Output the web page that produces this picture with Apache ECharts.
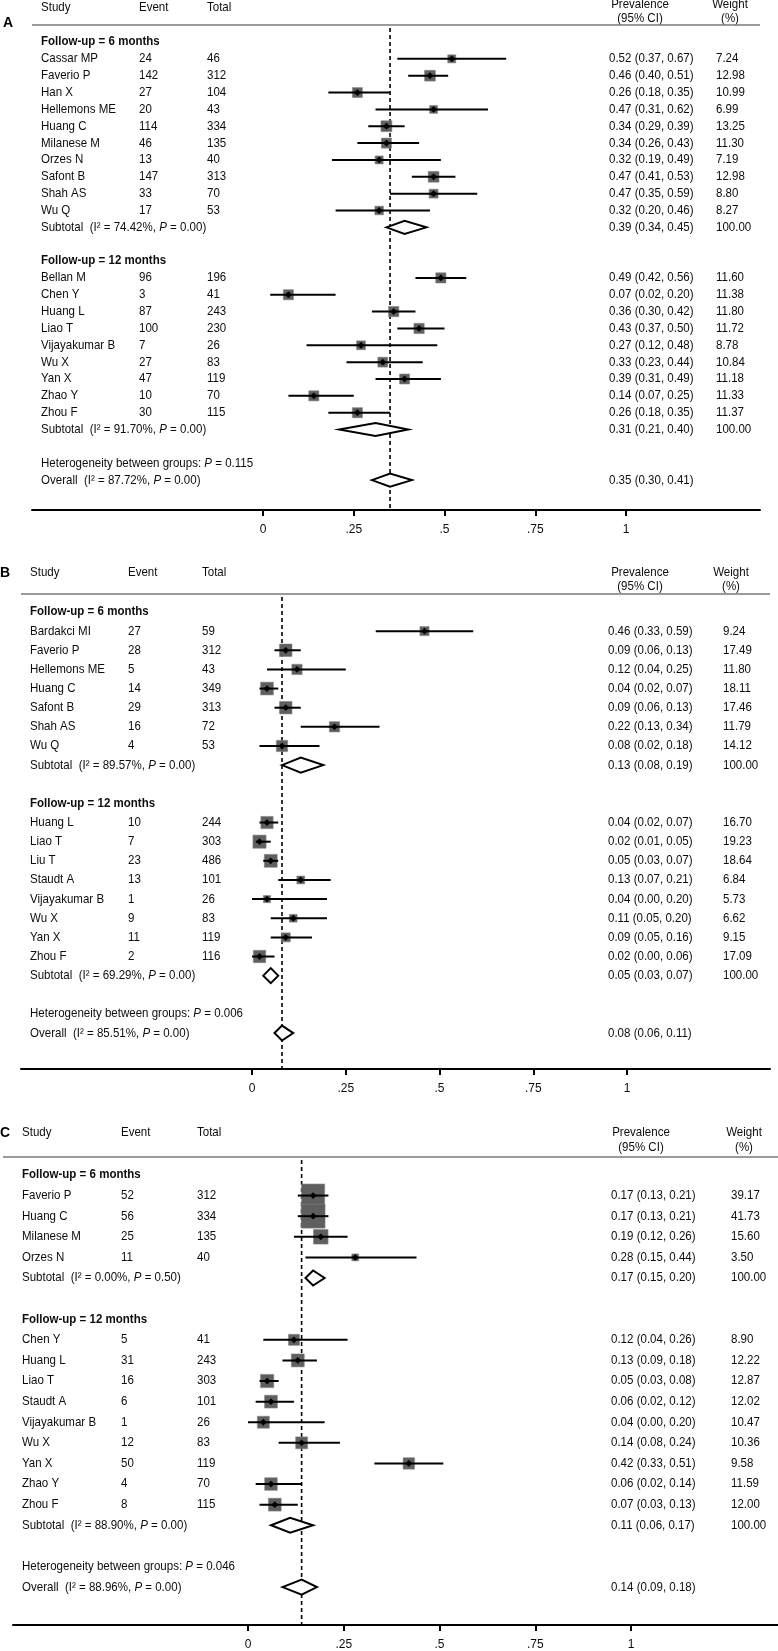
<!DOCTYPE html>
<html><head><meta charset="utf-8">
<script src="https://cdn.jsdelivr.net/npm/echarts@6/dist/echarts.min.js"></script>
<style>html,body{margin:0;padding:0;background:#fff}#c{width:778px;height:1651px}</style>
</head><body><div id="c"></div>
<script>
// ================= DATA =================
const TICK_VALUES = [0, 0.25, 0.5, 0.75, 1];
const TICK_LABELS = ['0', '.25', '.5', '.75', '1'];
const GROUP_LABELS = ['Follow-up = 6 months', 'Follow-up = 12 months'];
const HEADERS = ['Study', 'Event', 'Total', 'Prevalence', '(95% CI)', 'Weight', '(%)'];
const PANEL_LETTERS = ['A', 'B', 'C'];

// study rows: [study, event, total, prevalence, lower CI, upper CI, weight %]
// pooled rows: [prevalence, lower CI, upper CI, I2 %, P]
const A_6M = [
  ['Cassar MP', 24, 46, 0.52, 0.37, 0.67, 7.24],
  ['Faverio P', 142, 312, 0.46, 0.40, 0.51, 12.98],
  ['Han X', 27, 104, 0.26, 0.18, 0.35, 10.99],
  ['Hellemons ME', 20, 43, 0.47, 0.31, 0.62, 6.99],
  ['Huang C', 114, 334, 0.34, 0.29, 0.39, 13.25],
  ['Milanese M', 46, 135, 0.34, 0.26, 0.43, 11.30],
  ['Orzes N', 13, 40, 0.32, 0.19, 0.49, 7.19],
  ['Safont B', 147, 313, 0.47, 0.41, 0.53, 12.98],
  ['Shah AS', 33, 70, 0.47, 0.35, 0.59, 8.80],
  ['Wu Q', 17, 53, 0.32, 0.20, 0.46, 8.27]
];
const A_6M_SUB = [0.39, 0.34, 0.45, 74.42, 0.00];
const A_12M = [
  ['Bellan M', 96, 196, 0.49, 0.42, 0.56, 11.60],
  ['Chen Y', 3, 41, 0.07, 0.02, 0.20, 11.38],
  ['Huang L', 87, 243, 0.36, 0.30, 0.42, 11.80],
  ['Liao T', 100, 230, 0.43, 0.37, 0.50, 11.72],
  ['Vijayakumar B', 7, 26, 0.27, 0.12, 0.48, 8.78],
  ['Wu X', 27, 83, 0.33, 0.23, 0.44, 10.84],
  ['Yan X', 47, 119, 0.39, 0.31, 0.49, 11.18],
  ['Zhao Y', 10, 70, 0.14, 0.07, 0.25, 11.33],
  ['Zhou F', 30, 115, 0.26, 0.18, 0.35, 11.37]
];
const A_12M_SUB = [0.31, 0.21, 0.40, 91.70, 0.00];
const A_OVERALL = [0.35, 0.30, 0.41, 87.72, 0.00];
const A_HET_P = '0.115';

const B_6M = [
  ['Bardakci MI', 27, 59, 0.46, 0.33, 0.59, 9.24],
  ['Faverio P', 28, 312, 0.09, 0.06, 0.13, 17.49],
  ['Hellemons ME', 5, 43, 0.12, 0.04, 0.25, 11.80],
  ['Huang C', 14, 349, 0.04, 0.02, 0.07, 18.11],
  ['Safont B', 29, 313, 0.09, 0.06, 0.13, 17.46],
  ['Shah AS', 16, 72, 0.22, 0.13, 0.34, 11.79],
  ['Wu Q', 4, 53, 0.08, 0.02, 0.18, 14.12]
];
const B_6M_SUB = [0.13, 0.08, 0.19, 89.57, 0.00];
const B_12M = [
  ['Huang L', 10, 244, 0.04, 0.02, 0.07, 16.70],
  ['Liao T', 7, 303, 0.02, 0.01, 0.05, 19.23],
  ['Liu T', 23, 486, 0.05, 0.03, 0.07, 18.64],
  ['Staudt A', 13, 101, 0.13, 0.07, 0.21, 6.84],
  ['Vijayakumar B', 1, 26, 0.04, 0.00, 0.20, 5.73],
  ['Wu X', 9, 83, 0.11, 0.05, 0.20, 6.62],
  ['Yan X', 11, 119, 0.09, 0.05, 0.16, 9.15],
  ['Zhou F', 2, 116, 0.02, 0.00, 0.06, 17.09]
];
const B_12M_SUB = [0.05, 0.03, 0.07, 69.29, 0.00];
const B_OVERALL = [0.08, 0.06, 0.11, 85.51, 0.00];
const B_HET_P = '0.006';

const C_6M = [
  ['Faverio P', 52, 312, 0.17, 0.13, 0.21, 39.17],
  ['Huang C', 56, 334, 0.17, 0.13, 0.21, 41.73],
  ['Milanese M', 25, 135, 0.19, 0.12, 0.26, 15.60],
  ['Orzes N', 11, 40, 0.28, 0.15, 0.44, 3.50]
];
const C_6M_SUB = [0.17, 0.15, 0.20, 0.00, 0.50];
const C_12M = [
  ['Chen Y', 5, 41, 0.12, 0.04, 0.26, 8.90],
  ['Huang L', 31, 243, 0.13, 0.09, 0.18, 12.22],
  ['Liao T', 16, 303, 0.05, 0.03, 0.08, 12.87],
  ['Staudt A', 6, 101, 0.06, 0.02, 0.12, 12.02],
  ['Vijayakumar B', 1, 26, 0.04, 0.00, 0.20, 10.47],
  ['Wu X', 12, 83, 0.14, 0.08, 0.24, 10.36],
  ['Yan X', 50, 119, 0.42, 0.33, 0.51, 9.58],
  ['Zhao Y', 4, 70, 0.06, 0.02, 0.14, 11.59],
  ['Zhou F', 8, 115, 0.07, 0.03, 0.13, 12.00]
];
const C_12M_SUB = [0.11, 0.06, 0.17, 88.90, 0.00];
const C_OVERALL = [0.14, 0.09, 0.18, 88.96, 0.00];
const C_HET_P = '0.046';

// ================= LAYOUT (pixels) =================
const LAYOUT = [
  {lx: 8, ly: 23, axL: 32, axR: 760, x0: 263, x1: 626, row0: 42, pitch: 16.85, lineY: 25, axisY: 510,
   studyY: 8, prevY: 5, ciY: 19, cols: [41, 139, 207, 609, 716], prevC: 640, wC: 730, hdrL: 32, hdrR: 760, box: 3.0, dia: 13},
  {lx: 5, ly: 573, axL: 21, axR: 770, x0: 252, x1: 627, row0: 612, pitch: 19.14, lineY: 594, axisY: 1069,
   studyY: 573, prevY: 573, ciY: 587, cols: [30, 128, 202, 608, 723], prevC: 640, wC: 731, hdrL: 21, hdrR: 770, box: 3.0, dia: 15},
  {lx: 5, ly: 1133, axL: 13, axR: 778, x0: 248, x1: 631, row0: 1175, pitch: 20.65, lineY: 1157, axisY: 1626,
   studyY: 1133, prevY: 1133, ciY: 1148, cols: [22, 121, 197, 611, 731], prevC: 641, wC: 744, hdrL: 3, hdrR: 778, box: 3.7, dia: 15}
];
const FONT = "'Liberation Sans', Arial, Helvetica, sans-serif";
const FS = 12.4;     // glyph height
const SX = 0.93;     // horizontal condensing of the reference typeface
const TXT = '#0d0d0d';
const BOX = '#5f5f5f';

const PANELS = [
  [A_6M, A_6M_SUB, A_12M, A_12M_SUB, A_OVERALL, A_HET_P],
  [B_6M, B_6M_SUB, B_12M, B_12M_SUB, B_OVERALL, B_HET_P],
  [C_6M, C_6M_SUB, C_12M, C_12M_SUB, C_OVERALL, C_HET_P]
];

function buildRows(g6, s6, g12, s12, overall, hetP) {
  const rows = [];
  let r = 0;
  rows.push({type: 'group', row: r++, text: GROUP_LABELS[0]});
  g6.forEach(d => rows.push({type: 'study', row: r++, d}));
  rows.push({type: 'sub', row: r, d: s6}); r += 2;
  rows.push({type: 'group', row: r++, text: GROUP_LABELS[1]});
  g12.forEach(d => rows.push({type: 'study', row: r++, d}));
  rows.push({type: 'sub', row: r, d: s12}); r += 2;
  rows.push({type: 'het', row: r++, p: hetP});
  rows.push({type: 'overall', row: r, d: overall});
  return rows;
}
const f2 = v => v.toFixed(2);
const ciText = (e, lo, hi) => `${f2(e)} (${f2(lo)}, ${f2(hi)})`;

function txt(x, y, text, align, extra) {
  align = align || 'left';
  return {type: 'text', x, y, scaleX: SX, silent: true,
    style: Object.assign({text, fill: TXT, fontSize: FS, fontFamily: FONT,
      align, verticalAlign: 'middle', textAlign: align, textVerticalAlign: 'middle',
      rich: {i: {fontStyle: 'italic', fontSize: FS, fontFamily: FONT}, n: {fontSize: FS, fontFamily: FONT}}}, extra || {})};
}

const grids = [], xAxes = [], yAxes = [], series = [], graphics = [];

PANELS.forEach((P, i) => {
  const L = LAYOUT[i];
  const rows = buildRows(...P);
  const overall = P[4];
  const ppu = L.x1 - L.x0;
  const yMin = (L.lineY - L.row0) / L.pitch;
  const yMax = (L.axisY - L.row0) / L.pitch;

  grids.push({left: L.axL, width: L.axR - L.axL, top: L.lineY, height: L.axisY - L.lineY});
  xAxes.push({
    type: 'value', gridIndex: i,
    min: (L.axL - L.x0) / ppu, max: (L.axR - L.x0) / ppu,
    axisLine: {show: true, onZero: false, lineStyle: {color: '#000', width: 2}},
    axisTick: {show: true, customValues: TICK_VALUES, length: 6, inside: false, lineStyle: {color: '#000', width: 2}},
    axisLabel: {show: true, customValues: TICK_VALUES, margin: 14, color: TXT, fontSize: 12, fontFamily: FONT,
      formatter: v => { const k = TICK_VALUES.findIndex(t => Math.abs(t - v) < 1e-9); return k >= 0 ? TICK_LABELS[k] : ''; }},
    splitLine: {show: false}
  });
  yAxes.push({type: 'value', gridIndex: i, inverse: true, min: yMin, max: yMax, show: false});

  // dashed overall reference line
  series.push({
    type: 'custom', xAxisIndex: i, yAxisIndex: i, clip: false, silent: true, z: 1,
    data: [[overall[0], yMin]],
    renderItem: (params, api) => {
      const a = api.coord([api.value(0), yMin]);
      const b = api.coord([api.value(0), yMax]);
      return {type: 'line', shape: {x1: a[0], y1: a[1] + 3, x2: b[0], y2: b[1]},
        style: {stroke: '#000', lineWidth: 1.6, lineDash: [4, 3]}};
    }
  });

  // markers: boxes, CI lines, diamonds
  series.push({
    type: 'custom', xAxisIndex: i, yAxisIndex: i, clip: false, silent: true, z: 2,
    data: rows.map(r => [r.d ? (r.type === 'study' ? r.d[3] : r.d[0]) : 0, r.row]),
    renderItem: (params, api) => {
      const r = rows[params.dataIndex];
      const row = api.value(1);
      if (r.type === 'study') {
        const [, , , e, lo, hi, w] = r.d;
        const c = api.coord([e, row]);
        const a = api.coord([lo, row]);
        const b = api.coord([hi, row]);
        const s = L.box * Math.sqrt(w);
        const m = 3.4;
        return {type: 'group', children: [
          {type: 'rect', shape: {x: c[0] - s / 2, y: c[1] - s / 2, width: s, height: s}, style: {fill: BOX, stroke: '#888', lineWidth: 0.6}},
          {type: 'line', shape: {x1: a[0], y1: a[1], x2: b[0], y2: b[1]}, style: {stroke: '#000', lineWidth: 2}},
          {type: 'polygon', shape: {points: [[c[0] - m, c[1]], [c[0], c[1] - m], [c[0] + m, c[1]], [c[0], c[1] + m]]}, style: {fill: '#000'}}
        ]};
      }
      if (r.type === 'sub' || r.type === 'overall') {
        const [e, lo, hi] = r.d;
        const c = api.coord([e, row]);
        const a = api.coord([lo, row]);
        const b = api.coord([hi, row]);
        const h = L.dia / 2;
        return {type: 'polygon', shape: {points: [[a[0], a[1]], [c[0], c[1] - h], [b[0], b[1]], [c[0], c[1] + h]]},
          style: {fill: '#fff', stroke: '#000', lineWidth: 2}};
      }
      return null;
    }
  });

  // text columns
  series.push({
    type: 'custom', xAxisIndex: i, yAxisIndex: i, clip: false, silent: true, z: 3,
    data: rows.map(r => [0, r.row]),
    renderItem: (params, api) => {
      const r = rows[params.dataIndex];
      const y = api.coord([0, api.value(1)])[1];
      const C = L.cols;
      const ch = [];
      if (r.type === 'group') {
        ch.push(txt(C[0], y, r.text, 'left', {fontWeight: 'bold'}));
      } else if (r.type === 'study') {
        const [name, ev, tot, e, lo, hi, w] = r.d;
        ch.push(txt(C[0], y, name));
        ch.push(txt(C[1], y, String(ev)));
        ch.push(txt(C[2], y, String(tot)));
        ch.push(txt(C[3], y, ciText(e, lo, hi)));
        ch.push(txt(C[4], y, f2(w)));
      } else if (r.type === 'sub' || r.type === 'overall') {
        const [e, lo, hi, i2, p] = r.d;
        const lab = r.type === 'sub' ? 'Subtotal' : 'Overall';
        ch.push(txt(C[0], y, `{n|${lab}  (I² = ${f2(i2)}%, }{i|P}{n| = ${f2(p)})}`));
        ch.push(txt(C[3], y, ciText(e, lo, hi)));
        if (r.type === 'sub') ch.push(txt(C[4], y, '100.00'));
      } else if (r.type === 'het') {
        ch.push(txt(C[0], y, `{n|Heterogeneity between groups: }{i|P}{n| = ${r.p}}`));
      }
      return {type: 'group', children: ch};
    }
  });

  // headers
  graphics.push(txt(L.lx, L.ly, PANEL_LETTERS[i], 'center', {fontSize: 15, fontWeight: 'bold', fill: '#000'}));
  graphics.push(txt(L.cols[0], L.studyY, HEADERS[0], 'left'));
  graphics.push(txt(L.cols[1], L.studyY, HEADERS[1], 'left'));
  graphics.push(txt(L.cols[2], L.studyY, HEADERS[2], 'left'));
  graphics.push(txt(L.prevC, L.prevY, HEADERS[3], 'center'));
  graphics.push(txt(L.prevC, L.ciY, HEADERS[4], 'center'));
  graphics.push(txt(L.wC, L.prevY, HEADERS[5], 'center'));
  graphics.push(txt(L.wC, L.ciY, HEADERS[6], 'center'));
  graphics.push({type: 'line', silent: true, shape: {x1: L.hdrL, y1: L.lineY, x2: L.hdrR, y2: L.lineY},
    style: {stroke: '#7a7a7a', lineWidth: 1.6}});
});

const chart = echarts.init(document.getElementById('c'), null, {renderer: 'canvas', width: 778, height: 1651});
chart.setOption({
  backgroundColor: '#ffffff',
  animation: false,
  grid: grids,
  xAxis: xAxes,
  yAxis: yAxes,
  series: series,
  graphic: {elements: graphics}
});
</script>
</body></html>
